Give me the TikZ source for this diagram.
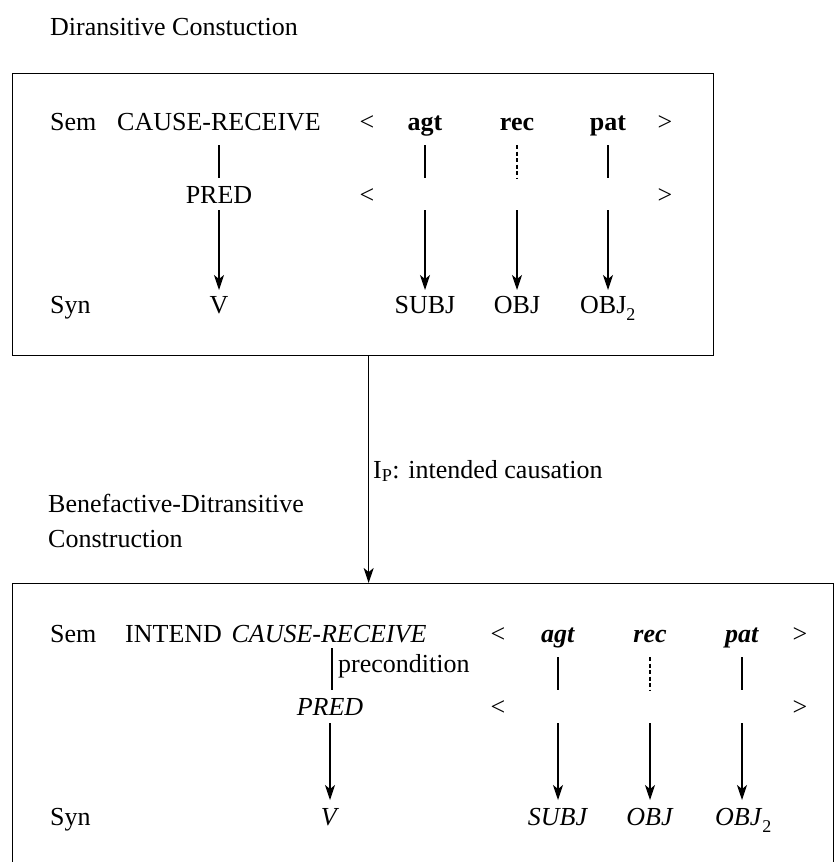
\documentclass[tikz,border=0pt]{standalone}
\usepackage{fontspec}
\setmainfont{Liberation Serif}
\usetikzlibrary{arrows.meta,calc}
\newcommand{\subtwo}{\raisebox{-0.3em}{\fontsize{18}{18}\selectfont 2}}
\begin{document}
\begin{tikzpicture}[x=1pt,y=-1pt,
  every node/.style={inner sep=0pt, anchor=base, font=\fontsize{26}{30}\selectfont},
  frame/.style={draw, line width=1.3pt, inner sep=0pt, anchor=north west},
  link/.style={line width=1.1pt},
  dlink/.style={line width=1.1pt, dash pattern=on 4pt off 2.5pt},
  arr/.style={line width=1.1pt, -{Stealth[length=15pt,width=10pt,inset=4pt]}},
  lw/.style={anchor=base west}
]
\useasboundingbox (0,0) rectangle (836,862);
\clip (0,0) rectangle (836,862);

% ---------- Ditransitive construction ----------
\node[lw] (title) at (50,35) {Diransitive Constuction};
\node[frame, minimum width=701pt, minimum height=282pt] (box1) at (12,73) {};

\node[lw] (sem1) at (50,130) {Sem};
\node (cr1) at (219,130) {CAUSE-RECEIVE};
\node (lta1) at (367,130) {<};
\node (agt1) at (425,130) {\textbf{agt}};
\node (rec1) at (517,130) {\textbf{rec}};
\node (pat1) at (608,130) {\textbf{pat}};
\node (gta1) at (665,130) {>};

\node (pred1) at (219,203) {PRED};
\node (ltb1) at (367,203) {<};
\node (gtb1) at (665,203) {>};

\node[lw] (syn1) at (50,313) {Syn};
\node (v1) at (219,313) {V};
\node (subj1) at (425,313) {SUBJ};
\node (obj1) at (517,313) {OBJ};
\node[lw] (objb1) at (580,313) {OBJ\subtwo};

\draw[link] ([yshift=-15pt]cr1.base) -- ([yshift=25pt]pred1.base);
\draw[arr] ([yshift=-7pt]pred1.base) -- ([yshift=23pt]v1.base);
\draw[link] ([yshift=-15pt]agt1.base) -- ([yshift=-48pt]agt1.base);
\draw[dlink] ([yshift=-15pt]rec1.base) -- ([yshift=-48pt]rec1.base);
\draw[link] ([yshift=-15pt]pat1.base) -- ([yshift=-48pt]pat1.base);
\draw[arr] ([yshift=-80pt]agt1.base) -- ([yshift=23pt]subj1.base);
\draw[arr] ([yshift=-80pt]rec1.base) -- ([yshift=23pt]obj1.base);
\draw[arr] ([yshift=-80pt]pat1.base) -- ($(pat1.base |- objb1.base)+(0,-23)$);

% ---------- Inheritance link ----------
\node[lw] (ip) at (373,478) {I\textsubscript{P}: intended causation};
\node[lw] (bene) at (48,512) {Benefactive-Ditransitive};
\node[lw] (constr) at (48,547) {Construction};
\node[frame, minimum width=821pt, minimum height=320pt] (box2) at (12,583) {};
\coordinate (c1) at ([xshift=5.5pt]box1.south);
\draw[arr] (c1) -- (c1 |- box2.north);

% ---------- Benefactive-ditransitive construction ----------
\node[lw] (sem2) at (50,642) {Sem};
\node[lw] (int2) at (125,642) {INTEND};
\node (cr2) at (329,642) {\textit{CAUSE-RECEIVE}};
\node (lta2) at (498,642) {<};
\node (agt2) at (558,642) {\textbf{\textit{agt}}};
\node (rec2) at (650,642) {\textbf{\textit{rec}}};
\node (pat2) at (742,642) {\textbf{\textit{pat}}};
\node (gta2) at (800,642) {>};

\node[lw] (pre2) at (338,672) {precondition};
\node (pred2) at (330,715) {\textit{PRED}};
\node (ltb2) at (498,715) {<};
\node (gtb2) at (800,715) {>};

\node[lw] (syn2) at (50,825) {Syn};
\node (v2) at (330,825) {\textit{V}};
\node (subj2) at (558,825) {\textit{SUBJ}};
\node (obj2) at (650,825) {\textit{OBJ}};
\node[lw] (objb2) at (715,825) {\textit{OBJ}\subtwo};

\draw[link] ($(pred2.base |- cr2.base)+(2,6)$) -- ([xshift=2pt,yshift=25pt]pred2.base);
\draw[arr] ([yshift=-8pt]pred2.base) -- ([yshift=25pt]v2.base);
\draw[link] ([yshift=-15pt]agt2.base) -- ([yshift=-48pt]agt2.base);
\draw[dlink] ([yshift=-15pt]rec2.base) -- ([yshift=-48pt]rec2.base);
\draw[link] ([yshift=-15pt]pat2.base) -- ([yshift=-48pt]pat2.base);
\draw[arr] ([yshift=-81pt]agt2.base) -- ([yshift=25pt]subj2.base);
\draw[arr] ([yshift=-81pt]rec2.base) -- ([yshift=25pt]obj2.base);
\draw[arr] ([yshift=-81pt]pat2.base) -- ($(pat2.base |- objb2.base)+(0,-25)$);
\end{tikzpicture}
\end{document}
